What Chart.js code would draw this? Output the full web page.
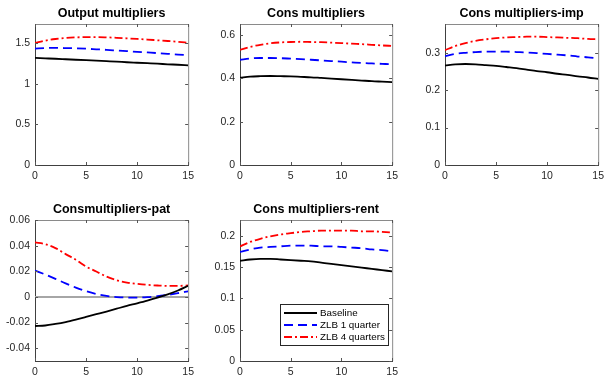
<!DOCTYPE html>
<html><head><meta charset="utf-8">
<script src="https://cdn.jsdelivr.net/npm/chart.js@4.4.0/dist/chart.umd.min.js"></script>
<style>
html,body{margin:0;padding:0;background:#fff;overflow:hidden}
#wrap{position:relative;width:607px;height:376px;background:#fff;overflow:hidden}
canvas{position:absolute}
</style></head><body><div id="wrap"></div>
<script>
const periods = [0,1,2,3,4,5,6,7,8,9,10,11,12,13,14,15];
const seriesLabels = ['Baseline', 'ZLB 1 quarter', 'ZLB 4 quarters'];
const panelTitles = ['Output multipliers', 'Cons multipliers', 'Cons multipliers-imp', 'Consmultipliers-pat', 'Cons multipliers-rent'];
const xTickValues = [0, 5, 10, 15];

const outputBaseline = [1.321,1.316,1.311,1.305,1.299,1.293,1.287,1.281,1.275,1.268,1.262,1.256,1.250,1.243,1.237,1.230];
const outputZlb1 = [1.437,1.443,1.445,1.443,1.440,1.435,1.428,1.421,1.413,1.405,1.397,1.389,1.381,1.372,1.363,1.355];
const outputZlb4 = [1.506,1.535,1.555,1.568,1.575,1.578,1.578,1.575,1.570,1.563,1.556,1.548,1.539,1.530,1.520,1.508];

const consBaseline = [0.403,0.408,0.410,0.411,0.410,0.409,0.407,0.405,0.402,0.399,0.396,0.393,0.390,0.387,0.385,0.383];
const consZlb1 = [0.486,0.492,0.494,0.494,0.493,0.491,0.489,0.486,0.483,0.480,0.477,0.474,0.471,0.469,0.467,0.465];
const consZlb4 = [0.531,0.545,0.555,0.562,0.566,0.568,0.569,0.568,0.567,0.565,0.563,0.560,0.558,0.555,0.552,0.550];

const impBaseline = [0.266,0.269,0.270,0.269,0.267,0.265,0.262,0.259,0.255,0.251,0.248,0.244,0.241,0.237,0.234,0.230];
const impZlb1 = [0.291,0.297,0.300,0.302,0.303,0.303,0.303,0.302,0.301,0.299,0.297,0.295,0.293,0.290,0.288,0.285];
const impZlb4 = [0.307,0.318,0.326,0.332,0.336,0.339,0.341,0.342,0.343,0.343,0.342,0.341,0.340,0.339,0.337,0.336];

const patBaseline = [-0.0227,-0.0223,-0.0211,-0.0196,-0.0177,-0.0156,-0.0135,-0.0114,-0.0092,-0.0070,-0.0050,-0.0029,-0.0006,0.0020,0.0050,0.0087];
const patZlb1 = [0.0206,0.0175,0.0141,0.0106,0.0073,0.0045,0.0023,0.0008,-0.0001,-0.0005,-0.0005,-0.0002,0.0005,0.0016,0.0029,0.0044];
const patZlb4 = [0.0425,0.0412,0.0381,0.0334,0.0290,0.0237,0.0198,0.0159,0.0130,0.0112,0.0102,0.0094,0.0089,0.0086,0.0086,0.0089];

const rentBaseline = [0.160,0.162,0.163,0.163,0.162,0.161,0.160,0.159,0.157,0.155,0.153,0.151,0.149,0.147,0.145,0.143];
const rentZlb1 = [0.174,0.178,0.181,0.182,0.183,0.184,0.184,0.184,0.183,0.183,0.182,0.181,0.180,0.178,0.177,0.175];
const rentZlb4 = [0.183,0.190,0.195,0.199,0.202,0.204,0.206,0.207,0.208,0.208,0.208,0.208,0.207,0.207,0.206,0.205];

const yTicksOutput = [0, 0.5, 1, 1.5];
const yLabelsOutput = ['0', '0.5', '1', '1.5'];
const yTicksCons = [0, 0.2, 0.4, 0.6];
const yLabelsCons = ['0', '0.2', '0.4', '0.6'];
const yTicksImp = [0, 0.1, 0.2, 0.3];
const yLabelsImp = ['0', '0.1', '0.2', '0.3'];
const yTicksPat = [-0.04, -0.02, 0, 0.02, 0.04, 0.06];
const yLabelsPat = ['-0.04', '-0.02', '0', '0.02', '0.04', '0.06'];
const yTicksRent = [0, 0.05, 0.1, 0.15, 0.2];
const yLabelsRent = ['0', '0.05', '0.1', '0.15', '0.2'];

const yRangeOutput = [0, 1.74];
const yRangeCons = [0, 0.651];
const yRangeImp = [0, 0.377];
const yRangePat = [-0.05, 0.06];
const yRangeRent = [0, 0.225];

const FONT = '"Liberation Sans", Arial, Helvetica, sans-serif';
const seriesStyles = [
  {color: '#000000', dash: []},
  {color: '#0000ff', dash: [9, 5]},
  {color: '#ff0000', dash: [8, 3, 2, 3]}
];

const panels = [
  {title: panelTitles[0], series: [outputBaseline, outputZlb1, outputZlb4], yTicks: yTicksOutput, yLabels: yLabelsOutput, yRange: yRangeOutput, box: {l: 35, t: 24, w: 156, h: 141}},
  {title: panelTitles[1], series: [consBaseline, consZlb1, consZlb4], yTicks: yTicksCons, yLabels: yLabelsCons, yRange: yRangeCons, box: {l: 240, t: 24, w: 155, h: 141}},
  {title: panelTitles[2], series: [impBaseline, impZlb1, impZlb4], yTicks: yTicksImp, yLabels: yLabelsImp, yRange: yRangeImp, box: {l: 445, t: 24, w: 156, h: 141}},
  {title: panelTitles[3], series: [patBaseline, patZlb1, patZlb4], yTicks: yTicksPat, yLabels: yLabelsPat, yRange: yRangePat, box: {l: 35, t: 220, w: 156, h: 141}, zeroLine: true},
  {title: panelTitles[4], series: [rentBaseline, rentZlb1, rentZlb4], yTicks: yTicksRent, yLabels: yLabelsRent, yRange: yRangeRent, box: {l: 240, t: 220, w: 155, h: 141}, legend: true}
];

const LEFT_W = 40, TOP_H = 24, RIGHT_P = 8, BOTTOM_H = 22;

const decorPlugin = {
  id: 'decor',
  beforeDatasetsDraw(chart, args, opts) {
    const a = chart.chartArea, ctx = chart.ctx;
    if (opts.zeroLine) {
      const y = Math.round(chart.scales.y.getPixelForValue(0));
      ctx.save();
      ctx.strokeStyle = '#a6a6a6';
      ctx.lineWidth = 2;
      ctx.beginPath(); ctx.moveTo(a.left, y); ctx.lineTo(a.right, y); ctx.stroke();
      ctx.restore();
    }
  },
  afterDraw(chart, args, opts) {
    const a = chart.chartArea, ctx = chart.ctx;
    ctx.save();
    ctx.strokeStyle = '#8a8a8a';
    ctx.lineWidth = 1;
    ctx.beginPath();
    ctx.moveTo(a.left, a.top + 0.5); ctx.lineTo(a.right + 0.5, a.top + 0.5);
    ctx.lineTo(a.right + 0.5, a.bottom);
    ctx.stroke();
    ctx.strokeStyle = '#555555';
    ctx.beginPath();
    chart.scales.y.ticks.forEach(t => {
      const y = Math.round(chart.scales.y.getPixelForValue(t.value)) + 0.5;
      ctx.moveTo(a.left, y); ctx.lineTo(a.left + 3, y);
      ctx.moveTo(a.right, y); ctx.lineTo(a.right - 3, y);
    });
    chart.scales.x.ticks.forEach(t => {
      const x = Math.round(chart.scales.x.getPixelForValue(t.value)) + 0.5;
      ctx.moveTo(x, a.bottom); ctx.lineTo(x, a.bottom - 3);
      ctx.moveTo(x, a.top); ctx.lineTo(x, a.top + 3);
    });
    ctx.stroke();
    ctx.fillStyle = '#000000';
    ctx.font = 'bold 12.5px ' + FONT;
    ctx.textAlign = 'center';
    ctx.textBaseline = 'alphabetic';
    ctx.fillText(opts.title, (a.left + a.right) / 2, a.top - 6.7);
    if (opts.legend) {
      const bx = a.left + 40, by = a.top + 84, bw = 108, bh = 41;
      ctx.fillStyle = '#ffffff';
      ctx.fillRect(bx, by, bw, bh);
      ctx.strokeStyle = '#262626';
      ctx.lineWidth = 1;
      ctx.strokeRect(bx + 0.5, by + 0.5, bw, bh);
      const rows = [9, 21, 33];
      chart.data.datasets.forEach((ds, i) => {
        const y = by + rows[i];
        ctx.strokeStyle = ds.borderColor;
        ctx.lineWidth = ds.borderWidth;
        ctx.setLineDash(ds.borderDash || []);
        ctx.beginPath(); ctx.moveTo(bx + 4, y); ctx.lineTo(bx + 37, y); ctx.stroke();
        ctx.setLineDash([]);
        ctx.fillStyle = '#000000';
        ctx.font = '9.8px ' + FONT;
        ctx.textAlign = 'left';
        ctx.textBaseline = 'middle';
        ctx.fillText(ds.label, bx + 40, y + 0.5);
      });
    }
    ctx.restore();
  }
};

const wrap = document.getElementById('wrap');
panels.forEach(p => {
  const c = document.createElement('canvas');
  const cw = p.box.w + LEFT_W + RIGHT_P, ch = p.box.h + TOP_H + BOTTOM_H;
  c.width = cw; c.height = ch;
  c.style.left = (p.box.l - LEFT_W) + 'px';
  c.style.top = (p.box.t - TOP_H) + 'px';
  c.style.width = cw + 'px'; c.style.height = ch + 'px';
  wrap.appendChild(c);
  new Chart(c, {
    type: 'line',
    data: {
      datasets: p.series.map((vals, i) => ({
        label: seriesLabels[i],
        data: periods.map((x, j) => ({x: x, y: vals[j]})),
        borderColor: seriesStyles[i].color,
        borderDash: seriesStyles[i].dash,
        borderWidth: 1.8,
        pointRadius: 0,
        fill: false,
        cubicInterpolationMode: 'monotone'
      }))
    },
    options: {
      responsive: false,
      animation: false,
      devicePixelRatio: 1,
      layout: {padding: {top: TOP_H, right: RIGHT_P, left: 0, bottom: 0}},
      plugins: {
        legend: {display: false},
        tooltip: {enabled: false},
        title: {display: false},
        decor: {title: p.title, legend: !!p.legend, zeroLine: !!p.zeroLine}
      },
      scales: {
        x: {
          type: 'linear', min: 0, max: 15,
          afterBuildTicks: s => { s.ticks = xTickValues.map(v => ({value: v})); },
          afterFit: s => { s.height = BOTTOM_H; },
          grid: {display: true, drawOnChartArea: false, drawTicks: false},
          border: {display: true, color: '#404040', width: 1},
          ticks: {padding: 5, color: '#262626', font: {family: FONT, size: 10.5}, maxRotation: 0,
                  callback: v => String(v)}
        },
        y: {
          type: 'linear', min: p.yRange[0], max: p.yRange[1],
          afterBuildTicks: s => { s.ticks = p.yTicks.map(v => ({value: v})); },
          afterFit: s => { s.width = LEFT_W; },
          grid: {display: true, drawOnChartArea: false, drawTicks: false},
          border: {display: true, color: '#404040', width: 1},
          ticks: {padding: 5, color: '#262626', font: {family: FONT, size: 10.5},
                  callback: (v, idx) => { const k = p.yTicks.indexOf(v); return k >= 0 ? p.yLabels[k] : ''; }}
        }
      }
    },
    plugins: [decorPlugin]
  });
});
</script>
</body></html>
